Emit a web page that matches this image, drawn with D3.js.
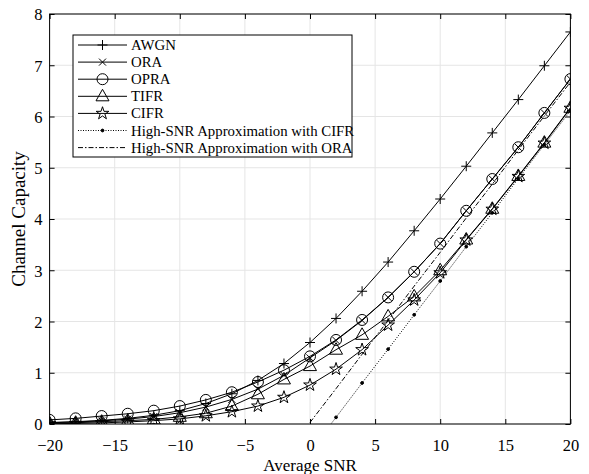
<!DOCTYPE html>
<html><head><meta charset="utf-8">
<script src="https://d3js.org/d3.v7.min.js"></script>
<style>body{margin:0;background:#fff}</style>
</head><body>
<svg id="c" width="589" height="474"></svg>
<script>
const snr = [-20,-18,-16,-14,-12,-10,-8,-6,-4,-2,0,2,4,6,8,10,12,14,16,18,20];
const awgn = [0.029,0.045,0.071,0.11,0.17,0.26,0.40,0.59,0.85,1.18,1.59,2.06,2.59,3.16,3.77,4.39,5.03,5.68,6.33,6.99,7.65];
const ora  = [0.025,0.04,0.06,0.095,0.145,0.22,0.33,0.48,0.68,0.95,1.29,1.63,2.02,2.47,2.97,3.52,4.16,4.78,5.40,6.07,6.73];
const opra = [0.08,0.11,0.155,0.20,0.26,0.35,0.47,0.62,0.82,1.05,1.32,1.64,2.03,2.47,2.97,3.52,4.16,4.78,5.40,6.07,6.73];
const tifr = [0.015,0.025,0.045,0.065,0.09,0.14,0.21,0.35,0.58,0.87,1.13,1.45,1.74,2.10,2.49,3.00,3.60,4.20,4.84,5.49,6.17];
const cifr = [0.005,0.012,0.022,0.04,0.065,0.10,0.16,0.24,0.35,0.52,0.76,1.07,1.45,1.93,2.42,2.95,3.59,4.19,4.83,5.48,6.16];
const approxSnr = [0,2,4,6,8,10,12,14,16,18,20];
const approxCifr = [-0.53,0.13,0.80,1.46,2.13,2.79,3.46,4.12,4.79,5.45,6.11];
const approxOra = [0.03,0.69,1.36,2.02,2.69,3.35,4.02,4.68,5.35,6.01,6.67];
const xTicks = [-20,-15,-10,-5,0,5,10,15,20];
const yTicks = [0,1,2,3,4,5,6,7,8];
const legendLabels = ["AWGN","ORA","OPRA","TIFR","CIFR","High-SNR Approximation with CIFR","High-SNR Approximation with ORA"];

const svg = d3.select("#c");
const L=49.6, R=570.4, T=14, B=424;
const x = d3.scaleLinear().domain([-20,20]).range([L,R]);
const y = d3.scaleLinear().domain([0,8]).range([B,T]);
const font = "Liberation Serif, Times New Roman, serif";

svg.append("clipPath").attr("id","clip").append("rect").attr("x",L).attr("y",T).attr("width",R-L).attr("height",B-T);

// grid
const g = svg.append("g");
g.selectAll(".gx").data(xTicks).join("line").attr("x1",d=>x(d)).attr("x2",d=>x(d)).attr("y1",T).attr("y2",B).attr("stroke","#e5e5e5").attr("stroke-width",1);
g.selectAll(".gy").data(yTicks).join("line").attr("y1",d=>y(d)).attr("y2",d=>y(d)).attr("x1",L).attr("x2",R).attr("stroke","#e5e5e5").attr("stroke-width",1);

// axes
const tk = 5;
const ax = d3.axisBottom(x).tickValues(xTicks).tickSize(-tk).tickFormat(d3.format("d"));
const axT = d3.axisTop(x).tickValues(xTicks).tickSize(-tk).tickFormat("");
const ay = d3.axisLeft(y).tickValues(yTicks).tickSize(-tk).tickPadding(7).tickFormat(d3.format("d"));
const ayR = d3.axisRight(y).tickValues(yTicks).tickSize(-tk).tickFormat("");
function style(s){ s.select(".domain").remove(); s.selectAll("line").attr("stroke","#000"); s.selectAll("text").attr("font-family",font).attr("font-size",16.5).attr("fill","#000"); }
const gxAxis = svg.append("g").attr("transform",`translate(0,${B})`).call(ax).call(style);
gxAxis.selectAll("text").attr("y",26.5).attr("dy",null);
svg.append("g").attr("transform",`translate(0,${T})`).call(axT).call(style);
const gyAxis = svg.append("g").attr("transform",`translate(${L},0)`).call(ay).call(style);
gyAxis.selectAll("text").attr("dy","0.35em");
svg.append("g").attr("transform",`translate(${R},0)`).call(ayR).call(style);
svg.append("rect").attr("x",L).attr("y",T).attr("width",R-L).attr("height",B-T).attr("fill","none").attr("stroke","#000").attr("stroke-width",1);

svg.append("text").attr("x",(L+R)/2).attr("y",470.5).attr("text-anchor","middle").attr("font-family",font).attr("font-size",17).text("Average SNR");
svg.append("text").attr("transform",`translate(25,${(T+B)/2}) rotate(-90)`).attr("text-anchor","middle").attr("font-family",font).attr("font-size",19).text("Channel Capacity");

// markers
function marker(sel, type){
  if(type==="plus") sel.append("path").attr("d","M-5,0H5M0,-5V5");
  if(type==="x") sel.append("path").attr("d","M-3.5,-3.5L3.5,3.5M-3.5,3.5L3.5,-3.5");
  if(type==="circle") sel.append("circle").attr("r",5.5);
  if(type==="tri") sel.append("path").attr("d","M0,-7L6.5,4.5L-6.5,4.5Z");
  if(type==="star") sel.append("path").attr("d",d3.symbol(d3.symbolStar,50)());
  if(type==="dot") sel.append("circle").attr("r",1.4).attr("fill","#000");
  sel.selectAll("path,circle").attr("stroke","#000").attr("stroke-width",1).each(function(){ if(!this.getAttribute("fill")) this.setAttribute("fill","none"); });
}

const plot = svg.append("g").attr("clip-path","url(#clip)");
const line = d3.line().x(d=>x(d[0])).y(d=>y(d[1]));
const series = [
  {xs:snr, ys:awgn, m:"plus", dash:null},
  {xs:snr, ys:ora, m:"x", dash:null},
  {xs:snr, ys:opra, m:"circle", dash:null},
  {xs:snr, ys:tifr, m:"tri", dash:null},
  {xs:snr, ys:cifr, m:"star", dash:null},
  {xs:approxSnr, ys:approxCifr, m:"dot", dash:"1,1.5"},
  {xs:approxSnr, ys:approxOra, m:null, dash:"5,2,1.5,2"}
];
series.forEach(s=>{
  const pts = s.xs.map((v,i)=>[v,s.ys[i]]);
  plot.append("path").attr("d",line(pts)).attr("fill","none").attr("stroke","#000").attr("stroke-width",1).attr("stroke-dasharray",s.dash);
  if(s.m){
    pts.forEach(p=>{ const gg = plot.append("g").attr("transform",`translate(${x(p[0])},${y(p[1])})`); marker(gg,s.m); });
  }
});

// legend
const lg = svg.append("g");
lg.append("rect").attr("x",73).attr("y",35).attr("width",279).attr("height",122).attr("fill","#fff").attr("stroke","#000").attr("stroke-width",1);
legendLabels.forEach((lab,i)=>{
  const yy = 45 + i*17.1;
  const s = series[i];
  lg.append("line").attr("x1",78).attr("x2",127).attr("y1",yy).attr("y2",yy).attr("stroke","#000").attr("stroke-width",1).attr("stroke-dasharray",s.dash);
  if(s.m){ const gg = lg.append("g").attr("transform",`translate(102.5,${yy})`); marker(gg,s.m); }
  lg.append("text").attr("x",131).attr("y",yy+5).attr("font-family",font).attr("font-size",14.8).text(lab);
});
</script>
</body></html>
